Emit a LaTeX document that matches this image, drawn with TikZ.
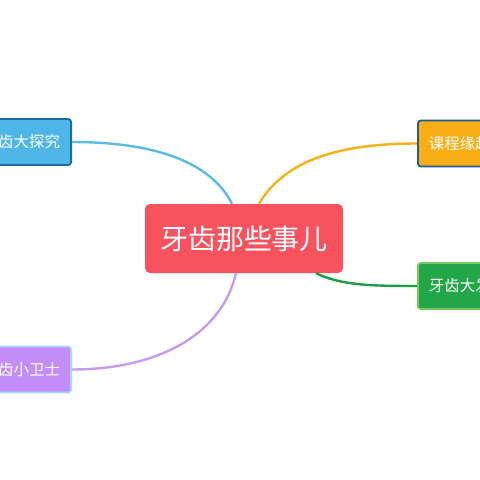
\documentclass[tikz,border=0pt]{standalone}
\usepackage{fontspec}
\newfontfamily\cjk{Noto Sans CJK SC}
\usetikzlibrary{calc}
\definecolor{cred}{HTML}{F7525E}
\definecolor{bfill}{HTML}{4DB6E6}
\definecolor{bline}{HTML}{1B6AA5}
\definecolor{bcon}{HTML}{5BBCE4}
\definecolor{yfill}{HTML}{F9AE16}
\definecolor{yline}{HTML}{1E5B9A}
\definecolor{ycon}{HTML}{F5B316}
\definecolor{gfill}{HTML}{21A648}
\definecolor{gline}{HTML}{7BC95C}
\definecolor{gcon}{HTML}{1A9E47}
\definecolor{pfill}{HTML}{C28DF6}
\definecolor{pline}{HTML}{A8D6F6}
\definecolor{pcon}{HTML}{C49BF5}
\tikzset{
  topic/.style={rounded corners=3pt, line width=1.8pt, minimum height=46pt,
    inner xsep=11pt, text=white, font=\cjk\fontsize{15.5}{18}\selectfont},
  conn/.style={line width=2.4pt},
}
\begin{document}
\begin{tikzpicture}[x=1pt,y=-1pt]
\useasboundingbox[fill=white] (0,0) rectangle (480,480);
\node[rounded corners=5pt, fill=cred, minimum width=198pt, minimum height=69pt,
  text=white, font=\cjk\fontsize{28}{32}\selectfont] (c) at (244,238.5) {牙齿那些事儿};
\node[topic, fill=bfill, draw=bline, anchor=east] (b) at (72,142) {牙齿大探究};
\node[topic, fill=yfill, draw=yline, anchor=west] (y) at (417,143.5) {课程缘起};
\node[topic, fill=gfill, draw=gline, anchor=west] (g) at (417,286) {牙齿大发现};
\node[topic, fill=pfill, draw=pline, anchor=east] (p) at (72,369.5) {牙齿小卫士};
\begin{scope}[on background layer/.try]
\end{scope}
\draw[conn, bcon] (b.east) .. controls +(98,0) and +(-17,-34) .. ([xshift=-12pt]c.north);
\draw[conn, ycon] ([xshift=15pt]c.north) .. controls +(26,-44) and +(-77,0) .. (y.west);
\draw[conn, gcon] ([xshift=72pt]c.south) .. controls +(25,12) and +(-47,0) .. (g.west);
\draw[conn, pcon] ([xshift=-8pt]c.south) .. controls +(-16,67) and +(78,0) .. (p.east);
\end{tikzpicture}
\end{document}
